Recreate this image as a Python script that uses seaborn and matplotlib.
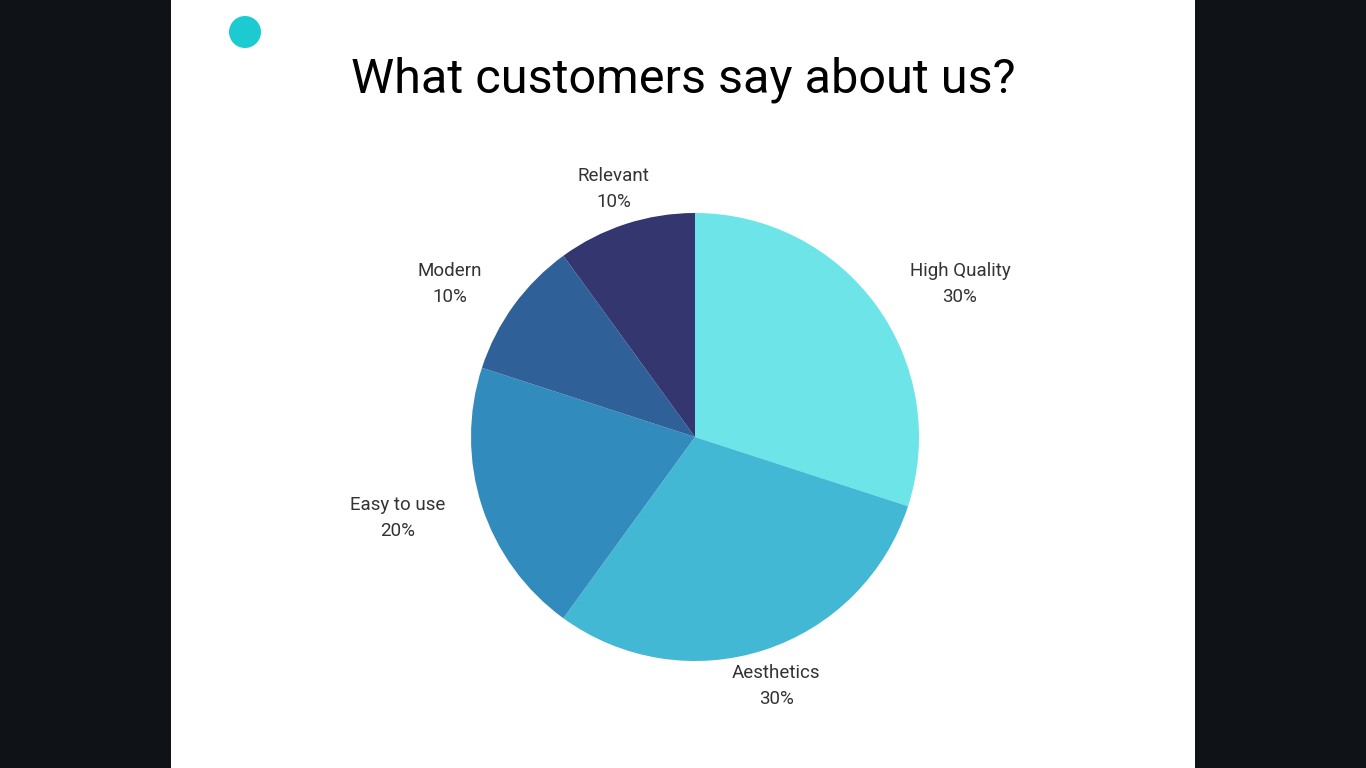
import matplotlib
matplotlib.use("Agg")
import matplotlib.pyplot as plt
import seaborn as sns
from matplotlib.patches import Rectangle, Circle

categories = ["High Quality", "Aesthetics", "Easy to use", "Modern", "Relevant"]
values = [30, 30, 20, 10, 10]
colors = ["#6ce4e8", "#43b8d5", "#318cbd", "#2f6198", "#34366f"]
title = "What customers say about us?"

# label positions in pie data units (radius = 1)
label_pos = [(1.183, 0.683), (0.362, -1.112), (-1.326, -0.362), (-1.094, 0.683), (-0.362, 1.107)]

sns.set_theme(style="white")
plt.rcParams['font.family'] = ['Roboto', 'DejaVu Sans']

W, H = 1366, 768
fig = plt.figure(figsize=(W / 100, H / 100), dpi=100)
fig.patch.set_facecolor("#0f1317")

# white panel
fig.add_artist(Rectangle((171 / W, 0), (1195 - 171) / W, 1, transform=fig.transFigure,
                         facecolor="white", edgecolor="none", zorder=0))
# teal dot
dot = fig.add_axes([0, 0, 1, 1], facecolor="none")
dot.set_xlim(0, W); dot.set_ylim(H, 0); dot.axis("off")
dot.add_patch(Circle((245, 32), 16, facecolor="#1ccbd2", edgecolor="none"))

fig.text(683 / W, 1 - 80 / H, title, ha="center", va="center", fontsize=35, color="black",
         family=['Roboto', 'DejaVu Sans'])

cx, cy, r = 695, 437, 224
ax = fig.add_axes([(cx - r) / W, (H - cy - r) / H, 2 * r / W, 2 * r / H])
ax.set_facecolor("none")
wedges, _ = ax.pie(values, colors=colors, startangle=90, counterclock=False, radius=1,
                   wedgeprops=dict(linewidth=0, edgecolor="none"))
ax.set_xlim(-1, 1); ax.set_ylim(-1, 1)
ax.set_aspect("equal")
ax.axis("off")

total = sum(values)
for cat, v, (x, y) in zip(categories, values, label_pos):
    ax.text(x, y, f"{cat}\n{round(100 * v / total)}%", ha="center", va="center",
            fontsize=13.5, color="#333333", linespacing=1.55, clip_on=False)

fig.savefig("out.png", dpi=100, facecolor=fig.get_facecolor())
